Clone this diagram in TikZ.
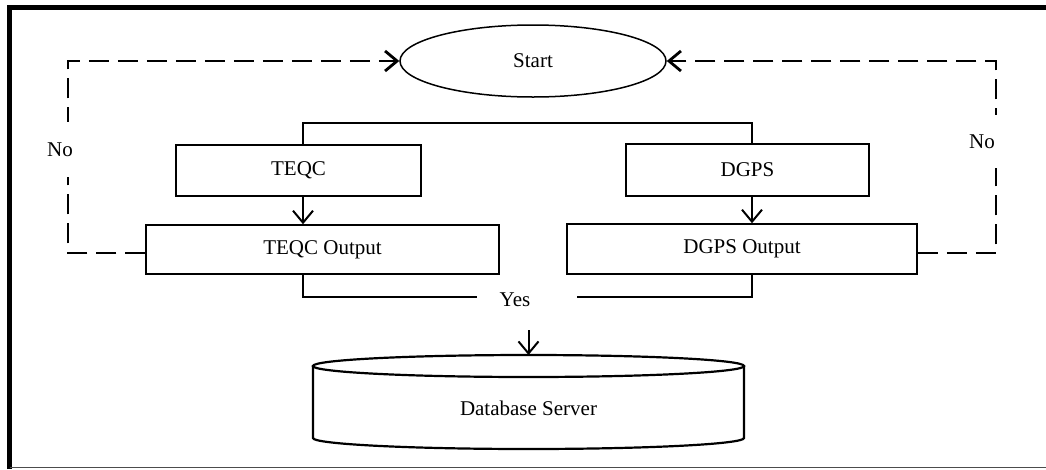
\documentclass[tikz,border=0pt]{standalone}
\usepackage{fontspec}
\setmainfont{Liberation Serif}
\usetikzlibrary{arrows.meta,shapes.geometric,calc}
\begin{document}
\begin{tikzpicture}[x=1pt,y=-1pt,
  font=\fontsize{21}{25}\selectfont,
  box/.style={draw, line width=1.5pt, inner sep=0pt},
  conn/.style={line width=2pt},
  tipped/.style={-{Straight Barb[length=12pt,width=20pt]}},
  loopline/.style={line width=2.8pt, dash pattern=on 20pt off 9pt},
  lbl/.style={inner sep=0pt, fill=white}]
\useasboundingbox (0,0) rectangle (1046,469);
% frame
\draw[line width=5pt] (9.5,469) -- (9.5,7.5) -- (1046,7.5);
\draw[line width=1.5pt, black!70] (9.5,467.5) -- (1046,467.5);
% nodes
\node[ellipse, draw, line width=1.5pt, minimum width=266, minimum height=72, inner sep=0pt] (start) at (533,61) {Start};
\node[box, minimum width=245, minimum height=51] (teqc) at (298.5,170.5) {TEQC};
\node[box, minimum width=243, minimum height=52] (dgps) at (747.5,170) {DGPS};
\node[box, minimum width=353, minimum height=49] (teqcout) at (322.5,249.5) {TEQC Output};
\node[box, minimum width=350, minimum height=50] (dgpsout) at (742,249) {DGPS Output};
\node[inner sep=0pt, minimum width=431, minimum height=70] (db) at (528.5,408) {Database Server};
% cylinder
\coordinate (dbtop) at (528.5,366);
\coordinate (dbbot) at (528.5,438);
\draw[line width=2.2pt] (dbtop) ellipse [x radius=215.5, y radius=11];
\draw[line width=2.2pt] ($(dbtop)+(-215.5,0)$) -- ($(dbbot)+(-215.5,0)$)
  arc[start angle=180, end angle=0, x radius=215.5, y radius=11]
  -- ($(dbtop)+(215.5,0)$);
\coordinate (dbin) at (528.5,355);
% guide coordinates
\coordinate (lx) at (303,123);
\coordinate (rx) at (752,123);
\coordinate (lb) at (303,297);
\coordinate (rb) at (752,297);
\coordinate (ygapl) at (477,297);
\coordinate (ygapr) at (577,297);
\coordinate (yarr) at (528.5,330);
\coordinate (nl) at (68,253);
\coordinate (nlt) at (68,61);
\coordinate (nr) at (996,253);
\coordinate (nrt) at (996,61);
% labels
\node[inner sep=0pt] (yes) at (515,300) {Yes};
% solid connectors
\draw[conn] (lx |- teqc.north) -- (lx) -- (rx) -- (rx |- dgps.north);
\draw[conn, tipped] (lx |- teqc.south) -- (lx |- teqcout.north);
\draw[conn, tipped] (rx |- dgps.south) -- (rx |- dgpsout.north);
\draw[conn] (lx |- teqcout.south) -- (lb) -- (ygapl);
\draw[conn] (ygapr) -- (rb) -- (rx |- dgpsout.south);
\draw[conn, tipped] (yarr) -- (dbin);
% dashed loops
\draw[loopline, tipped] (nl -| teqcout.west) -- (nl) -- (nlt) -- (start.west);
\draw[loopline, tipped] (nr -| dgpsout.east) -- (nr) -- (nrt) -- (start.east);
\node[lbl, minimum height=55, minimum width=30] (nol) at (60,149.5) {No};
\node[lbl, minimum height=53, minimum width=30] (nor) at (982,141.5) {No};
\end{tikzpicture}
\end{document}
